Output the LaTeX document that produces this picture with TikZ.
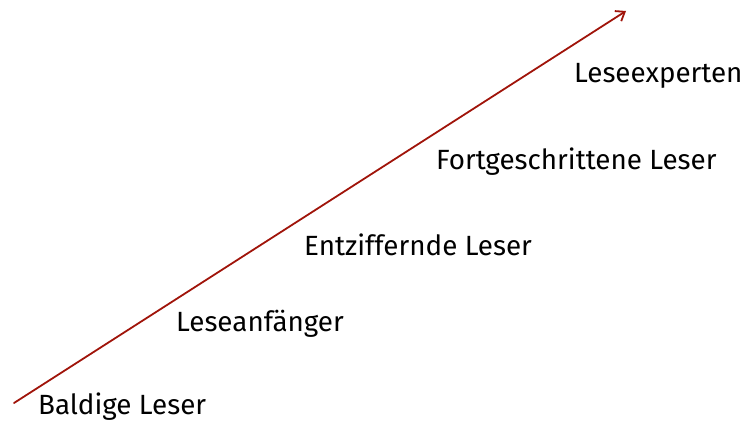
\documentclass[tikz,border=0pt]{standalone}
\usepackage{fontspec}
\setmainfont{Fira Sans}
\usetikzlibrary{arrows.meta}
\definecolor{arrowred}{RGB}{160,20,10}
\begin{document}
\begin{tikzpicture}[x=1pt,y=-1pt,>={Straight Barb[length=8pt,width=12pt]}, line join=round, line cap=round,
  stage/.style={anchor=west, inner sep=0pt, font=\fontsize{27.8}{32}\selectfont}]
	\useasboundingbox (0,0) rectangle (743,422);
	\coordinate (start) at (14,403);
	\coordinate (end) at (626,11);
	\draw[->, color=arrowred, line width=1.8pt] (start)--(end);
	\node[stage] (baldig) at (38,407) {Baldige Leser};
	\node[stage] (anfaenger) at (176,324) {Leseanfänger};
	\node[stage] (entziffernd) at (304,245) {Entziffernde Leser};
	\node[stage] (fortgeschritten) at (436,162) {Fortgeschrittene Leser};
	\node[stage] (experten) at (574,76) {Leseexperten};
\end{tikzpicture}
\end{document}
